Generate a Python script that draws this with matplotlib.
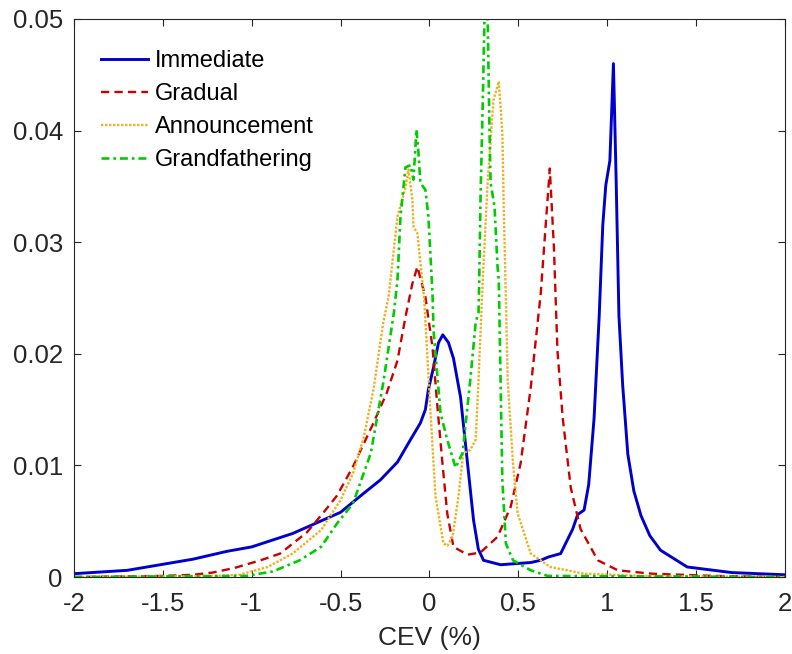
import numpy as np
import matplotlib
matplotlib.use('Agg')
import matplotlib.pyplot as plt

plt.rcParams['font.family'] = ['Liberation Sans', 'DejaVu Sans']

# CEV distributions under the four transition scenarios
x_imm = [-2.0, -1.7, -1.33, -1.14, -1.0, -0.77, -0.5, -0.37, -0.276, -0.18, -0.107, -0.051,
         -0.023, -0.006, 0.023, 0.051, 0.075, 0.107, 0.135, 0.175, 0.214, 0.248, 0.275, 0.304,
         0.40, 0.57, 0.626, 0.67, 0.738, 0.806, 0.834, 0.87, 0.896, 0.926, 0.955, 0.975,
         0.992, 1.015, 1.035, 1.05, 1.066, 1.087, 1.116, 1.15, 1.19, 1.24, 1.30, 1.45, 1.7, 2.0]
y_imm = [0.0003, 0.0006, 0.0016, 0.0023, 0.0027, 0.0039, 0.0058, 0.0075, 0.0087, 0.0103,
         0.0123, 0.0138, 0.0150, 0.0168, 0.0188, 0.0210, 0.0217, 0.0210, 0.0196, 0.0161,
         0.0102, 0.0051, 0.0025, 0.0015, 0.0011, 0.0013, 0.0015, 0.0018, 0.0021, 0.0043,
         0.0056, 0.0060, 0.0083, 0.0142, 0.0234, 0.0315, 0.0351, 0.0373, 0.0460, 0.0358,
         0.0234, 0.0172, 0.0110, 0.0077, 0.0055, 0.0037, 0.0024, 0.0009, 0.0004, 0.0002]

x_grad = [-2.0, -1.5, -1.33, -1.22, -1.10, -0.95, -0.84, -0.69, -0.60, -0.52, -0.43, -0.315,
          -0.24, -0.18, -0.135, -0.096, -0.068, -0.023, 0.017, 0.045, 0.073, 0.10, 0.135,
          0.214, 0.287, 0.383, 0.457, 0.513, 0.57, 0.626, 0.677, 0.70, 0.72, 0.75, 0.795,
          0.85, 0.947, 1.06, 1.25, 1.6, 2.0]
y_grad = [0.0, 0.0001, 0.0002, 0.0004, 0.0008, 0.0015, 0.0021, 0.0040, 0.0057, 0.0073,
          0.0099, 0.0138, 0.0165, 0.0194, 0.0233, 0.0263, 0.0278, 0.0251, 0.0206, 0.0152,
          0.0102, 0.0057, 0.0027, 0.0020, 0.0022, 0.0036, 0.0063, 0.0102, 0.0170, 0.0254,
          0.0366, 0.0296, 0.0203, 0.0142, 0.0080, 0.0043, 0.0015, 0.0006, 0.0003, 0.0001, 0.0]

x_ann = [-2.0, -1.2, -1.07, -0.91, -0.77, -0.61, -0.50, -0.43, -0.37, -0.315, -0.26, -0.23,
         -0.18, -0.135, -0.118, -0.096, -0.09, -0.068, -0.05, -0.03, 0.006, 0.034, 0.079,
         0.10, 0.13, 0.163, 0.19, 0.23, 0.26, 0.276, 0.30, 0.327, 0.36, 0.39, 0.41, 0.417,
         0.43, 0.44, 0.47, 0.496, 0.57, 0.68, 0.87, 1.2, 2.0]
y_ann = [0.0, 0.0001, 0.0002, 0.0009, 0.0021, 0.0042, 0.0069, 0.0093, 0.0125, 0.0168,
         0.0228, 0.0251, 0.0323, 0.0349, 0.0365, 0.0338, 0.0314, 0.0308, 0.0280, 0.0250,
         0.0147, 0.0072, 0.0030, 0.0028, 0.0036, 0.0072, 0.0111, 0.0114, 0.0123, 0.0177,
         0.0266, 0.0353, 0.0427, 0.0444, 0.0398, 0.0338, 0.0248, 0.0177, 0.0102, 0.0057,
         0.0021, 0.0009, 0.0003, 0.0001, 0.0]

x_gf = [-2.0, -1.03, -0.88, -0.73, -0.61, -0.52, -0.43, -0.39, -0.33, -0.26, -0.20, -0.18,
        -0.163, -0.135, -0.107, -0.09, -0.073, -0.062, -0.051, -0.023, -0.006, 0.017, 0.023,
        0.062, 0.10, 0.147, 0.186, 0.23, 0.26, 0.276, 0.28, 0.287, 0.30, 0.31, 0.327, 0.338,
        0.344, 0.366, 0.383, 0.39, 0.40, 0.41, 0.43, 0.47, 0.57, 0.665, 2.0]
y_gf = [0.0, 0.0001, 0.0005, 0.0015, 0.0027, 0.0048, 0.0066, 0.0084, 0.0111, 0.0174, 0.0237,
        0.0266, 0.0323, 0.0367, 0.0369, 0.0356, 0.0401, 0.0380, 0.0353, 0.0347, 0.0323,
        0.0254, 0.0221, 0.0147, 0.0123, 0.0098, 0.0111, 0.0177, 0.0228, 0.0237, 0.0266,
        0.0338, 0.0427, 0.0505, 0.0505, 0.0398, 0.0353, 0.0332, 0.0278, 0.0266, 0.0177,
        0.0087, 0.0030, 0.0015, 0.0006, 0.0001, 0.0]

labels = ['Immediate', 'Gradual', 'Announcement', 'Grandfathering']
xticks = [-2, -1.5, -1, -0.5, 0, 0.5, 1, 1.5, 2]
yticks = [0, 0.01, 0.02, 0.03, 0.04, 0.05]

fig = plt.figure(figsize=(7.92, 6.54), dpi=100)
ax = fig.add_axes([0.0934, 0.1177, 0.8977, 0.8533])

ax.plot(x_imm, y_imm, color='#0000CC', lw=2.1, ls='-', label=labels[0])
ax.plot(x_grad, y_grad, color='#CC0000', lw=1.7, dashes=(3.5, 2.2), label=labels[1])
ax.plot(x_ann, y_ann, color='#EDB120', lw=1.7, dashes=(1, 0.7), label=labels[2])
ax.plot(x_gf, y_gf, color='#00CC00', lw=1.9, dashes=(3, 1.5, 1, 1.5), label=labels[3])

ax.set_xlim(-2, 2)
ax.set_ylim(0, 0.05)
ax.set_xticks(xticks)
ax.set_xticklabels(['-2', '-1.5', '-1', '-0.5', '0', '0.5', '1', '1.5', '2'])
ax.set_yticks(yticks)
ax.set_yticklabels(['0', '0.01', '0.02', '0.03', '0.04', '0.05'])

for s in ax.spines.values():
    s.set_color('#262626')
    s.set_linewidth(0.8)
ax.tick_params(direction='in', length=5, width=0.8, top=True, right=True,
               labelsize=18.5, colors='#262626')
ax.tick_params(axis='x', pad=11)
ax.tick_params(axis='y', pad=8)
ax.set_xlabel('CEV (%)', fontsize=19, color='#262626', labelpad=7)

ax.legend(loc='upper left', bbox_to_anchor=(0.038, 0.944), frameon=False,
          fontsize=17, handlelength=2.0, handletextpad=0.3, labelspacing=0.46,
          borderpad=0, borderaxespad=0)

fig.savefig('out.png', dpi=100)
